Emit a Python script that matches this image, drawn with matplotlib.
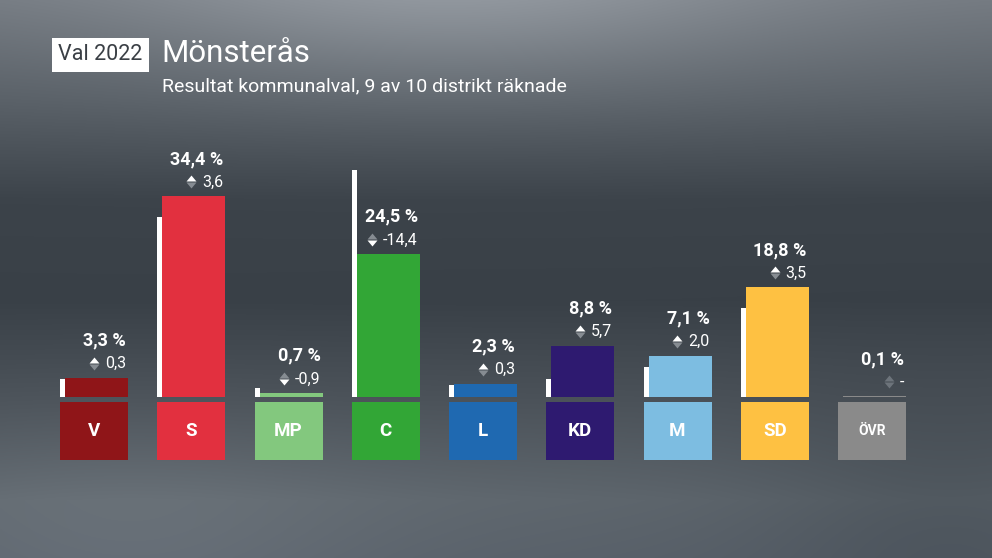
import numpy as np
import matplotlib
matplotlib.use('Agg')
import matplotlib.pyplot as plt
from matplotlib.colors import to_rgb

plt.rcParams['font.family'] = ['Roboto', 'DejaVu Sans']

parties = ['V', 'S', 'MP', 'C', 'L', 'KD', 'M', 'SD', 'ÖVR']
share = [3.3, 34.4, 0.7, 24.5, 2.3, 8.8, 7.1, 18.8, 0.1]
change = [0.3, 3.6, -0.9, -14.4, 0.3, 5.7, 2.0, 3.5, None]
colors = ['#8f1518', '#e2303f', '#83c87e', '#32a636', '#1f69b1',
          '#2e1a70', '#7dbde1', '#fec142', '#8a8a8a']

title = 'Mönsterås'
subtitle = 'Resultat kommunalval, 9 av 10 distrikt räknade'
tag = 'Val 2022'

W, H = 992, 558
fig = plt.figure(figsize=(9.92, 5.58), dpi=100)

# background gradient
bg = fig.add_axes([0, 0, 1, 1])
yy, xx = np.mgrid[0:H, 0:W]
prof_y = [0, 100, 200, 300, 400, 500, 558]
prof_c = ['#737980', '#596067', '#3c434a', '#394047', '#4b5259', '#5e666d', '#59616a']
prof = np.array([to_rgb(c) for c in prof_c])
img = np.zeros((H, W, 3))
for k in range(3):
    img[..., k] = np.interp(yy, prof_y, prof[:, k])
blob = np.exp(-(((xx - 450) / 330.0) ** 2 + ((yy + 20) / 110.0) ** 2))
img += blob[..., None] * 0.12
blob2 = np.exp(-(((xx - 130) / 260.0) ** 2 + ((yy - 560) / 140.0) ** 2))
img += blob2[..., None] * 0.05
dark = np.exp(-(((xx - 950) / 200.0) ** 2 + ((yy - 520) / 120.0) ** 2))
img -= dark[..., None] * 0.05
bg.imshow(np.clip(img, 0, 1), extent=[0, W, H, 0], aspect='auto')
bg.set_xlim(0, W)
bg.set_ylim(H, 0)
bg.axis('off')

# header
bg.text(100.5, 55, tag, fontsize=15.5, color='#3a3f45', ha='center', va='center',
        bbox=dict(boxstyle='square,pad=0.3', fc='white', ec='none'))
bg.text(161, 54, title, fontsize=22.5, color='white', ha='left', va='center')
bg.text(162, 86, subtitle, fontsize=14, color='white', ha='left', va='center')

# bar area, 97.25 px per party, 5.84 px per percent
step = 97.25
ax = fig.add_axes([(94 - step / 2) / W, (H - 470) / H, step * 9 / W, 370 / H])
ax.set_xlim(-0.5, len(parties) - 0.5)
ax.set_ylim(-(470 - 397) / 5.84, (397 - 100) / 5.84)
ax.axis('off')
ax.patch.set_alpha(0)

px = 1 / step
chg_texts = []
for i, p in enumerate(parties):
    left = i - 34 * px
    ax.bar(left + 5 * px, share[i], width=63 * px, align='edge', color=colors[i],
           zorder=2)
    if change[i] is not None:
        prev = share[i] - change[i]
        ax.bar(left, prev, width=5 * px, align='edge', color='white', zorder=3)
    # party box
    ax.bar(i, -10.79 + 0.856, bottom=-0.856, width=68 * px, color=colors[i])
    ax.text(i, -5.8, p, color='white', fontsize=10 if p == 'ÖVR' else 13.5,
            fontweight='bold', ha='center', va='center')

    right = i + 32 * px
    ax.annotate(f'{share[i]:.1f} %'.replace('.', ','), (right, share[i]),
                xytext=(0, 37), textcoords='offset pixels', ha='right',
                va='center', color='white', fontsize=13, fontweight='bold')
    ctxt = '-' if change[i] is None else f'{change[i]:.1f}'.replace('.', ',')
    t = ax.annotate(ctxt, (right, share[i]), xytext=(0, 14),
                    textcoords='offset pixels', ha='right', va='center',
                    color='white', fontsize=11.5)
    chg_texts.append(t)

# up/down arrows left of each change text
fig.canvas.draw()
up = [(-1, 0), (1, 0), (0, 1.2), (-1, 0)]
dn = [(-1, 0), (1, 0), (0, -1.2), (-1, 0)]
for i, t in enumerate(chg_texts):
    bb = t.get_window_extent()
    xa = bb.x0 - 11
    yc = H - (bb.y0 + bb.y1) / 2 - 0.5
    if change[i] is None:
        up_c, dn_c = '#6d747b', '#6d747b'
    elif change[i] >= 0:
        up_c, dn_c = 'white', '#868c92'
    else:
        up_c, dn_c = '#868c92', 'white'
    bg.plot([xa], [yc - 0.5], marker=up, markersize=8.6, color=up_c, mew=0,
            linestyle='none')
    bg.plot([xa], [yc + 0.5], marker=dn, markersize=8.6, color=dn_c, mew=0,
            linestyle='none')

fig.savefig('out.png', dpi=100)
